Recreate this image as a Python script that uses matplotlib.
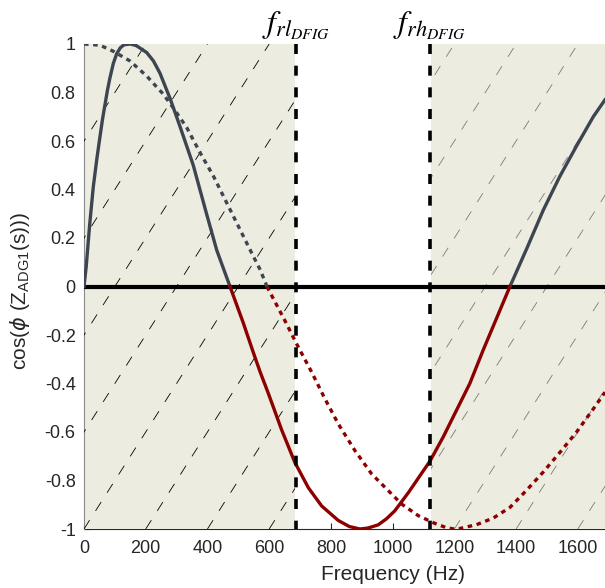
import numpy as np
import matplotlib
matplotlib.use("Agg")
import matplotlib.pyplot as plt
from matplotlib.patches import Rectangle

plt.rcParams['font.family'] = ['Liberation Sans', 'DejaVu Sans']
plt.rcParams['axes.unicode_minus'] = False
plt.rcParams['lines.scale_dashes'] = False

# valeurs
freq_solid = [0, 7, 18, 30, 42, 52, 60, 68, 76, 84, 95, 106, 118, 130, 150, 170, 185,
              203, 225, 246, 279, 311, 354, 397, 430, 473, 516, 548, 570, 597, 640,
              683, 727, 770, 824, 860, 894, 920, 953, 980, 1007, 1051, 1094, 1121, 1164,
              1207, 1250, 1294, 1337, 1380, 1434, 1488, 1542, 1596, 1650, 1688]
cos_solid = [0.0, 0.08, 0.25, 0.41, 0.53, 0.62, 0.69, 0.75, 0.81, 0.86, 0.92, 0.96,
             0.985, 0.997, 1.0, 0.993, 0.98, 0.965, 0.93, 0.88, 0.775, 0.66, 0.5, 0.3,
             0.15, 0.0, -0.15, -0.27, -0.35, -0.44, -0.59, -0.725, -0.83, -0.905,
             -0.965, -0.99, -1.0, -0.996, -0.983, -0.958, -0.925, -0.85, -0.77, -0.72,
             -0.62, -0.51, -0.40, -0.26, -0.13, 0.0, 0.155, 0.315, 0.455, 0.58, 0.70,
             0.77]

freq_dot = [0, 52, 95, 149, 203, 257, 289, 333, 376, 419, 462, 505, 548, 570, 593,
            603, 651, 689, 738, 781, 824, 878, 932, 986, 1029, 1083, 1137, 1175, 1200,
            1218, 1272, 1326, 1380, 1434, 1488, 1542, 1596, 1650, 1688]
cos_dot = [1.0, 0.995, 0.97, 0.93, 0.868, 0.793, 0.737, 0.655, 0.552, 0.456, 0.346,
           0.236, 0.126, 0.071, 0.0, -0.025, -0.141, -0.237, -0.354, -0.464, -0.567,
           -0.677, -0.773, -0.842, -0.897, -0.945, -0.977, -0.995, -1.0, -0.998,
           -0.982, -0.955, -0.911, -0.84, -0.765, -0.684, -0.6, -0.505, -0.436]

f_rl = 687
f_rh = 1120
x_max = 1688

gris = '#3c4550'
rouge = '#8c0000'
fond = '#ecece0'

fig = plt.figure(figsize=(6.05, 5.88), dpi=100)
ax = fig.add_axes([84 / 605, 59 / 588, 1 - 84 / 605, 485 / 588])

# zones grisées avec hachures en tirets
zones = [(0, f_rl - 2, 'black'), (f_rh + 4, x_max, '#7a7a7a')]
for x0, x1, c in zones:
    rect = Rectangle((x0, -1), x1 - x0, 2, facecolor=fond, edgecolor='none', zorder=2.6)
    ax.add_patch(rect)
    for b in range(-1000, 2000, 200):
        ln, = ax.plot([b, b + 1000], [-1, 1], color=c, lw=0.6,
                      dashes=(7.5, 8), zorder=2.7)
        ln.set_clip_path(rect)

ax.axhline(0, color='black', lw=3, zorder=2.8)

fs = np.array(freq_solid)
cs = np.array(cos_solid)
fd = np.array(freq_dot)
cd = np.array(cos_dot)

ax.plot(fs, np.where(cs >= 0, cs, np.nan), color=gris, lw=2.4, zorder=3)
ax.plot(fs, np.where(cs <= 0, cs, np.nan), color=rouge, lw=2.4, zorder=3)
ax.plot(fd, np.where(cd >= 0, cd, np.nan), color=gris, lw=2.4,
        dashes=(3.3, 3.3), dash_capstyle='butt', zorder=3)
ax.plot(fd, np.where(cd <= 0, cd, np.nan), color=rouge, lw=2.4,
        dashes=(3.3, 3.3), dash_capstyle='butt', zorder=3)

for f in (f_rl, f_rh):
    ax.plot([f, f], [1, -1], color='black', lw=2.6, dashes=(7.2, 8.4),
            dash_capstyle='butt', zorder=3.1)

ax.annotate(r'$f_{rl_{DFIG}}$', xy=(f_rl, 1), xytext=(0, 2), textcoords='offset points',
            ha='center', va='bottom', fontsize=23, math_fontfamily='stix', color='black')
ax.annotate(r'$f_{rh_{DFIG}}$', xy=(f_rh, 1), xytext=(0, 2), textcoords='offset points',
            ha='center', va='bottom', fontsize=23, math_fontfamily='stix', color='black')

ax.set_xlim(0, x_max)
ax.set_ylim(-1, 1)
ax.set_xticks(range(0, 1601, 200))
yt = np.round(np.arange(-1, 1.01, 0.2), 1) + 0.0
ax.set_yticks(yt)
ax.set_yticklabels(['0' if abs(v) < 1e-9 else '%g' % v for v in yt])

ax.spines['top'].set_visible(False)
ax.spines['right'].set_visible(False)
ax.spines['bottom'].set_color('#262626')
ax.spines['left'].set_color('#8a8a8a')
ax.spines['left'].set_linewidth(0.8)
ax.spines['left'].set_zorder(2.65)
ax.tick_params(direction='in', length=4, width=0.8, colors='#262626',
               labelsize=13, pad=6)
ax.tick_params(axis='x', pad=8)

ax.set_xlabel('Frequency (Hz)', fontsize=15, color='#262626')
ax.set_ylabel(r'cos($\phi$ (Z$_{\mathregular{ADG1}}$(s)))', fontsize=15, color='#262626')
ax.xaxis.set_label_coords((393 - 84) / 521, -0.074)
ax.yaxis.set_label_coords(-0.10, 0.49)

fig.savefig('out.png', dpi=100)
